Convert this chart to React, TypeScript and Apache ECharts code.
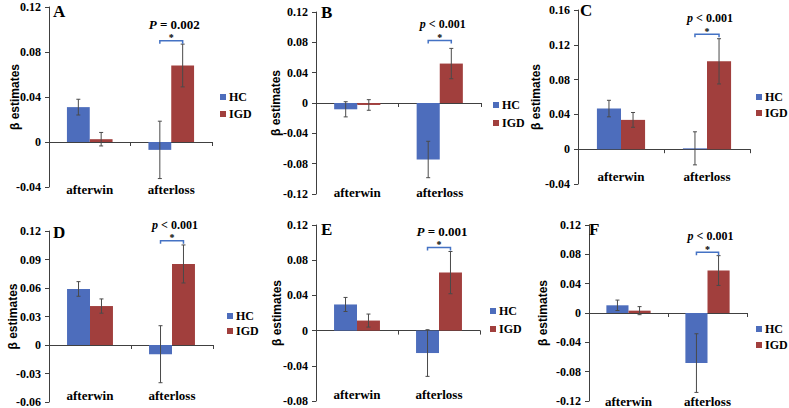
import { useEffect, useRef } from 'react';
import * as echarts from 'echarts';

// ---------------- data ----------------
const categories = ['afterwin', 'afterloss'];
const seriesNames = ['HC', 'IGD'];
const panelLetters = ['A', 'B', 'C', 'D', 'E', 'F'];

// per panel: [afterwin, afterloss]
const hcValues = [
  [0.031, -0.007],
  [-0.0083, -0.0745],
  [0.0467, 0.001],
  [0.059, -0.0097],
  [0.0297, -0.0255],
  [0.0105, -0.0683],
];
const hcErrors = [
  [0.007, 0.0255],
  [0.01, 0.024],
  [0.0095, 0.019],
  [0.0077, 0.03],
  [0.008, 0.0265],
  [0.0071, 0.04],
];
const igdValues = [
  [0.0025, 0.068],
  [-0.0026, 0.052],
  [0.0337, 0.101],
  [0.041, 0.0853],
  [0.0114, 0.0659],
  [0.0032, 0.0579],
];
const igdErrors = [
  [0.006, 0.019],
  [0.007, 0.02],
  [0.0085, 0.026],
  [0.0075, 0.02],
  [0.0074, 0.024],
  [0.0055, 0.0203],
];
const yMins = [-0.04, -0.12, -0.04, -0.06, -0.08, -0.12];
const yMaxs = [0.12, 0.12, 0.16, 0.12, 0.12, 0.12];
const yIntervals = [0.04, 0.04, 0.04, 0.03, 0.04, 0.04];
const bracketLevels = [0.09, 0.0825, 0.132, 0.1098, 0.0945, 0.0827];
const pLabels = ['{i|P} = 0.002', '{i|p} < 0.001', '{i|p} < 0.001', '{i|p} < 0.001', '{i|P} = 0.001', '{i|p} < 0.001'];
const yAxisName = 'β estimates';

// ---------------- layout / style ----------------
const grids = [
  { left: 49, top: 7, width: 163, height: 180 },
  { left: 316, top: 12, width: 165, height: 182 },
  { left: 578, top: 10, width: 172, height: 174 },
  { left: 49, top: 231, width: 164, height: 172 },
  { left: 316, top: 225, width: 164, height: 176 },
  { left: 589, top: 225, width: 158, height: 176 },
];
const legendPos = [
  { left: 220, top: 91, gap: 5 },
  { left: 493, top: 99, gap: 6 },
  { left: 756, top: 91, gap: 4 },
  { left: 227, top: 310, gap: 3 },
  { left: 490, top: 305, gap: 6 },
  { left: 756, top: 323, gap: 4 },
];
const letterPos = [
  { left: 53, top: 3 },
  { left: 321, top: 4 },
  { left: 580, top: 2 },
  { left: 53, top: 224 },
  { left: 321, top: 221 },
  { left: 589, top: 221 },
];
const labelMargins = [-4.5, -8.5, -14.5, -13, -13, -6.5];
const nameGaps = [28, 34, 36, 30, 33, 40];
const pSizes = [13, 12, 12, 12, 13, 12];

const SERIF = '"Liberation Serif", "Times New Roman", serif';
const SANS = '"Liberation Sans", Arial, sans-serif';
const BLUE = '#4D6DBC';
const RED = '#A13F3D';
const AXIS = '#404040';
const ERR = '#4a4a4a';
const BRACKET = '#4472C4';
const BAR_FRAC = 0.28;

function buildOption() {
  const xAxis: any[] = [];
  const yAxis: any[] = [];
  const series: any[] = [];
  const legend: any[] = [];
  const title: any[] = [];

  grids.forEach((_, i) => {
    xAxis.push({
      type: 'category',
      gridIndex: i,
      data: categories,
      position: 'bottom',
      axisLine: { show: true, onZero: true, lineStyle: { color: AXIS, width: 1 } },
      axisTick: { show: true, length: 4, lineStyle: { color: AXIS } },
      axisLabel: { show: false },
      splitLine: { show: false },
    });
    xAxis.push({
      type: 'category',
      gridIndex: i,
      data: categories,
      position: 'bottom',
      axisLine: { show: false, onZero: false },
      axisTick: { show: false },
      axisLabel: {
        show: true,
        margin: labelMargins[i],
        fontFamily: SERIF,
        fontWeight: 'bold',
        fontSize: 13,
        color: '#000',
      },
      splitLine: { show: false },
    });
    yAxis.push({
      type: 'value',
      gridIndex: i,
      min: yMins[i],
      max: yMaxs[i],
      interval: yIntervals[i],
      name: yAxisName,
      nameLocation: 'middle',
      nameGap: nameGaps[i],
      nameMoveOverlap: false,
      nameTextStyle: { fontFamily: SANS, fontWeight: 'bold', fontSize: 12, color: '#000' },
      axisLine: { show: true, lineStyle: { color: AXIS, width: 1 } },
      axisTick: { show: true, length: 4, lineStyle: { color: AXIS } },
      axisLabel: {
        fontFamily: SERIF,
        fontWeight: 'bold',
        fontSize: 12,
        color: '#000',
        margin: 8,
        formatter: (v: number) => {
          const r = Math.round(v * 1000) / 1000;
          return r === 0 ? '0' : String(r);
        },
      },
      splitLine: { show: false },
    });

    const xi = i * 2;
    series.push({
      type: 'bar',
      name: seriesNames[0],
      xAxisIndex: xi,
      yAxisIndex: i,
      data: hcValues[i],
      barWidth: BAR_FRAC * 100 + '%',
      barGap: '0%',
      itemStyle: { color: BLUE },
      silent: true,
    });
    series.push({
      type: 'bar',
      name: seriesNames[1],
      xAxisIndex: xi,
      yAxisIndex: i,
      data: igdValues[i],
      barWidth: BAR_FRAC * 100 + '%',
      barGap: '0%',
      itemStyle: { color: RED },
      silent: true,
    });

    const errData: number[][] = [];
    categories.forEach((_, c) => {
      errData.push([c, hcValues[i][c], hcErrors[i][c], 0]);
      errData.push([c, igdValues[i][c], igdErrors[i][c], 1]);
    });
    series.push({
      type: 'custom',
      xAxisIndex: xi,
      yAxisIndex: i,
      data: errData,
      encode: { x: 0, y: 1 },
      z: 5,
      silent: true,
      renderItem: (_p: any, api: any) => {
        const cat = api.value(0);
        const v = api.value(1);
        const e = api.value(2);
        const slot = api.value(3);
        const band = api.size([1, 0])[0];
        const base = api.coord([cat, v]);
        const x = base[0] + (slot === 0 ? -1 : 1) * (band * BAR_FRAC) / 2;
        const top = api.coord([cat, v + e])[1];
        const bot = api.coord([cat, v - e])[1];
        const st = { stroke: ERR, lineWidth: 1 };
        return {
          type: 'group',
          children: [
            { type: 'line', shape: { x1: x, y1: top, x2: x, y2: bot }, style: st },
            { type: 'line', shape: { x1: x - 2, y1: top, x2: x + 2, y2: top }, style: st },
            { type: 'line', shape: { x1: x - 2, y1: bot, x2: x + 2, y2: bot }, style: st },
          ],
        };
      },
    });

    series.push({
      type: 'custom',
      xAxisIndex: xi,
      yAxisIndex: i,
      data: [[1, bracketLevels[i]]],
      encode: { x: 0, y: 1 },
      z: 6,
      silent: true,
      renderItem: (_p: any, api: any) => {
        const band = api.size([1, 0])[0];
        const c = api.coord([api.value(0), api.value(1)]);
        const half = (band * BAR_FRAC) / 2;
        const x1 = c[0] - half;
        const x2 = c[0] + half;
        const y = c[1];
        return {
          type: 'group',
          children: [
            {
              type: 'polyline',
              shape: { points: [[x1, y + 3], [x1, y], [x2, y], [x2, y + 3]] },
              style: { stroke: BRACKET, lineWidth: 1.5, fill: null },
            },
            {
              type: 'text',
              x: c[0],
              y: y - 3,
              style: {
                text: '*',
                fill: '#000',
                fontFamily: SERIF,
                fontWeight: 'bold',
                fontSize: 10,
                align: 'center',
                verticalAlign: 'middle',
              },
            },
            {
              type: 'text',
              x: c[0] + 3,
              y: y - 16,
              style: {
                text: pLabels[i],
                fill: '#000',
                fontFamily: SERIF,
                fontWeight: 'bold',
                fontSize: pSizes[i],
                align: 'center',
                verticalAlign: 'middle',
                rich: {
                  i: { fontFamily: SERIF, fontWeight: 'bold', fontStyle: 'italic', fontSize: pSizes[i], fill: '#000' },
                },
              },
            },
          ],
        };
      },
    });

    legend.push({
      data: seriesNames,
      orient: 'vertical',
      left: legendPos[i].left,
      top: legendPos[i].top,
      itemWidth: 6,
      itemHeight: 6,
      itemGap: legendPos[i].gap,
      icon: 'rect',
      padding: 0,
      selectedMode: false,
      textStyle: { fontFamily: SERIF, fontWeight: 'bold', fontSize: 12, color: '#000', padding: [0, 0, 0, -2] },
    });

    title.push({
      text: panelLetters[i],
      left: letterPos[i].left,
      top: letterPos[i].top,
      padding: 0,
      textStyle: { fontFamily: SERIF, fontWeight: 'bold', fontSize: 17, color: '#000' },
    });
  });

  return {
    animation: false,
    backgroundColor: '#fff',
    title,
    legend,
    grid: grids.map((g) => ({ ...g, containLabel: false })),
    xAxis,
    yAxis,
    series,
  };
}

export default function App() {
  const ref = useRef<HTMLDivElement>(null);
  useEffect(() => {
    if (!ref.current) return;
    const chart = echarts.init(ref.current, undefined, { renderer: 'svg' });
    chart.setOption(buildOption());
    return () => chart.dispose();
  }, []);
  return (
    <div
      ref={ref}
      style={{ position: 'absolute', left: 0, top: 0, width: 789, height: 408, background: '#fff' }}
    />
  );
}
